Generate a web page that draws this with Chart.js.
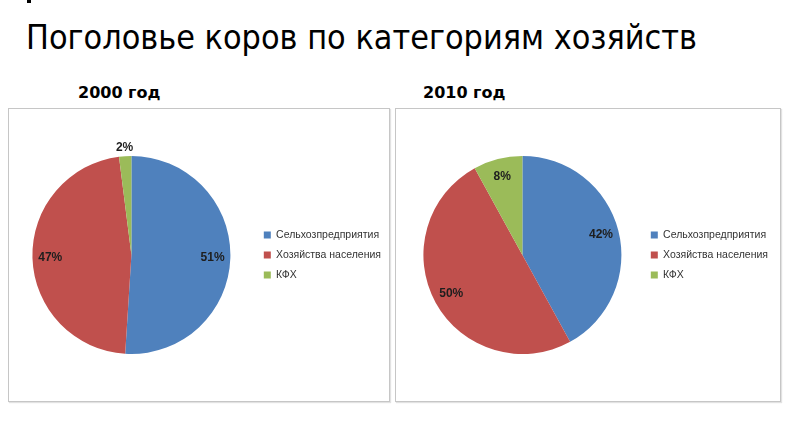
<!DOCTYPE html>
<html lang="ru">
  <head>
    <meta charset="UTF-8">
    <title>Поголовье коров</title>
    <script src="https://cdn.jsdelivr.net/npm/chart.js@4"></script>
    <style>
      body { margin: 0; width: 790px; height: 433px; background: #fff; position: relative; overflow: hidden; }
      #mark { position: absolute; left: 27px; top: 0; width: 4px; height: 3px; background: #000; }
      h1 { position: absolute; left: 26px; top: 20px; margin: 0; font: normal 34px/1 "DejaVu Sans Condensed", "DejaVu Sans", sans-serif; font-stretch: condensed; color: #000; white-space: nowrap; transform-origin: left top; }
      .sub { position: absolute; top: 85px; margin: 0; font: bold 16px/1 "DejaVu Sans", sans-serif; color: #000; }
      .box { position: absolute; top: 108px; height: 292px; border: 1px solid #c6c6c6; box-shadow: 1px 1px 1px #e2e2e2; }
      canvas { position: absolute; top: 108px; }
    </style>
  </head>
  <body>
    <div id="mark"></div>
    <h1 id="title">Поголовье коров по категориям хозяйств</h1>
    <div class="sub" style="left:78px">2000 год</div>
    <div class="sub" style="left:423px">2010 год</div>
    <div class="box" style="left:8px;width:380px"></div>
    <div class="box" style="left:395px;width:384px"></div>
    <canvas id="chart2000"></canvas>
    <canvas id="chart2010"></canvas>

    <script>
      const categories = ['Сельхозпредприятия', 'Хозяйства населения', 'КФХ']
      const values2000 = [51, 47, 2]
      const values2010 = [42, 50, 8]
      const colors = ['#4F81BD', '#C0504D', '#9BBB59']

      const legendFont = { family: '"Liberation Sans", Arial, sans-serif', size: 10.5 }
      const legendPad = 9.5
      const boxW = 7

      // squeeze the title to the width it has in the picture
      const title = document.getElementById('title')
      title.style.transform = `scaleX(${671 / title.getBoundingClientRect().width})`

      const pctLabels = {
        id: 'pctLabels',
        afterDatasetsDraw(chart) {
          const ctx = chart.ctx
          const data = chart.data.datasets[0].data
          ctx.save()
          ctx.font = 'bold 12px "Liberation Sans", Arial, sans-serif'
          ctx.fillStyle = '#1e1e1e'
          ctx.textAlign = 'center'
          ctx.textBaseline = 'middle'
          chart.getDatasetMeta(0).data.forEach((arc, i) => {
            const { x, y, startAngle, endAngle, outerRadius } =
              arc.getProps(['x', 'y', 'startAngle', 'endAngle', 'outerRadius'], true)
            const mid = (startAngle + endAngle) / 2
            const r = data[i] < 5 ? outerRadius + 9 : outerRadius * 0.82
            ctx.fillText(data[i] + '%', x + Math.cos(mid) * r, y + Math.sin(mid) * r)
          })
          ctx.restore()
        }
      }

      function textWidth(labels) {
        const ctx = document.createElement('canvas').getContext('2d')
        ctx.font = `${legendFont.size}px ${legendFont.family}`
        return Math.max(...labels.map(l => ctx.measureText(l).width))
      }

      // left: page x of the canvas, legendX: page x of the legend squares
      function makePie(id, values, left, legendX) {
        const canvas = document.getElementById(id)
        const w = Math.ceil(legendX - left + boxW + legendFont.size / 2 + textWidth(categories) + 10)
        canvas.width = w
        canvas.height = 293
        canvas.style.left = left + 'px'
        return new Chart(canvas, {
          type: 'pie',
          data: {
            labels: categories,
            datasets: [{ data: values, backgroundColor: colors, borderWidth: 0, hoverOffset: 0, offset: 0 }]
          },
          options: {
            responsive: false,
            animation: false,
            devicePixelRatio: 1,
            layout: { padding: { left: 4.5, right: 0, top: 48, bottom: 47 } },
            plugins: {
              tooltip: { enabled: false },
              legend: {
                position: 'right',
                labels: {
                  boxWidth: boxW,
                  boxHeight: boxW,
                  padding: legendPad,
                  color: '#333333',
                  font: legendFont
                }
              }
            }
          },
          plugins: [pctLabels]
        })
      }

      makePie('chart2000', values2000, 4, 263)
      makePie('chart2010', values2010, 399, 650)
    </script>
  </body>
</html>
